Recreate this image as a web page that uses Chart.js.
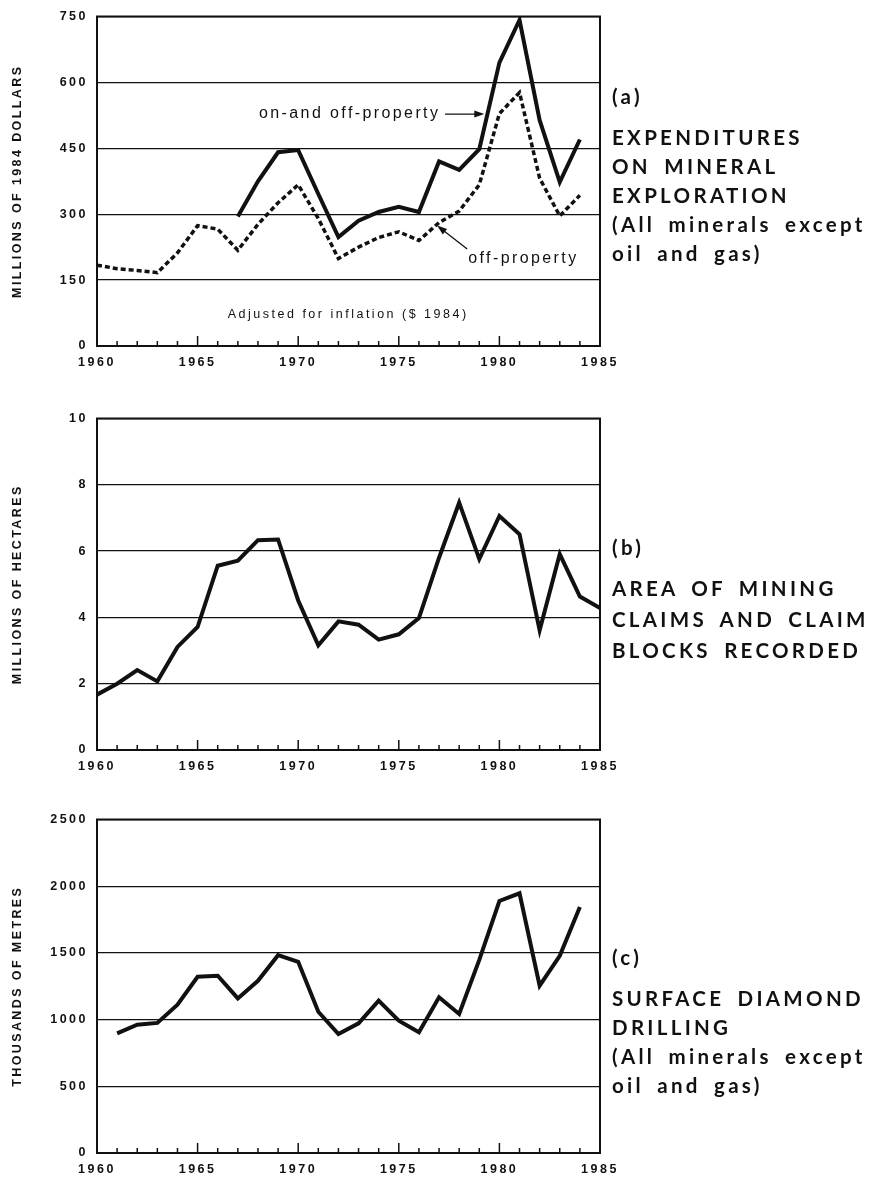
<!DOCTYPE html>
<html>
<head>
<meta charset="utf-8">
<script src="https://cdn.jsdelivr.net/npm/chart.js@4.4.1/dist/chart.umd.min.js"></script>
<style>
  body { margin: 0; background: #fff; width: 878px; height: 1177px; position: relative; overflow: hidden; }
  .box { position: absolute; left: 0; width: 630px; }
  .side { position: absolute; left: 612px; font-family: Lato, 'Open Sans', sans-serif; font-weight: 700;
          font-size: 20.5px; line-height: 29px; letter-spacing: 3.3px; word-spacing: 5px; color: #111; white-space: nowrap; }
  .side .tag { margin-bottom: 12px; }
</style>
</head>
<body>

<div class="box" style="top:0;height:376px"><canvas id="chartA"></canvas></div>
<div class="box" style="top:402px;height:378px"><canvas id="chartB"></canvas></div>
<div class="box" style="top:803px;height:374px"><canvas id="chartC"></canvas></div>

<div class="side" style="top:82px">
  <div class="tag">(a)</div>
  EXPENDITURES<br>ON MINERAL<br>EXPLORATION<br>(All minerals except<br>oil and gas)
</div>
<div class="side" style="top:532px;line-height:31px">
  <div class="tag" style="margin-bottom:10px">(b)</div>
  AREA OF MINING<br>CLAIMS AND CLAIM<br>BLOCKS RECORDED
</div>
<div class="side" style="top:943px">
  <div class="tag">(c)</div>
  SURFACE DIAMOND<br>DRILLING<br>(All minerals except<br>oil and gas)
</div>

<script>
// years on the x axis
const years = [1960, 1961, 1962, 1963, 1964, 1965, 1966, 1967, 1968, 1969,
               1970, 1971, 1972, 1973, 1974, 1975, 1976, 1977, 1978, 1979,
               1980, 1981, 1982, 1983, 1984, 1985];

// (a) expenditures, millions of 1984 dollars
const onAndOffProperty = [null, null, null, null, null, null, null, 295, 375, 441,
                          446, 346, 248, 285, 305, 317, 305, 420, 401, 448,
                          645, 742, 514, 373, 470];
const offProperty = [184, 176, 172, 167, 212, 274, 266, 218, 277, 326,
                     367, 290, 199, 225, 247, 260, 240, 281, 307, 367,
                     529, 577, 382, 296, 343];

// (b) area of claims, millions of hectares
const claimArea = [1.67, 2.0, 2.41, 2.07, 3.11, 3.71, 5.56, 5.71, 6.33, 6.35,
                   4.51, 3.16, 3.88, 3.78, 3.33, 3.49, 3.98, 5.8, 7.46, 5.76,
                   7.06, 6.51, 3.61, 5.91, 4.63, 4.28];

// (c) surface diamond drilling, thousands of metres
const drilling = [null, 897, 962, 975, 1112, 1321, 1329, 1159, 1291, 1483,
                  1433, 1059, 892, 972, 1142, 992, 905, 1167, 1042, 1448,
                  1889, 1947, 1254, 1478, 1844];

const xTicks = [1960, 1965, 1970, 1975, 1980, 1985];
const yTicksA = [0, 150, 300, 450, 600, 750];
const yTicksB = [0, 2, 4, 6, 8, 10];
const yTicksC = [0, 500, 1000, 1500, 2000, 2500];

const FONT = "'Liberation Sans', Arial, sans-serif";
const INK = '#111';

function points(arr) {
    return arr.map((v, i) => ({ x: years[i], y: v }));
}

// frame, inward year ticks, axis title and notes
const framePlugin = {
    id: 'frame',
    beforeDraw(chart) {
        chart.ctx.letterSpacing = '2.5px';
    },
    afterDraw(chart, args, opts) {
        const ctx = chart.ctx;
        const a = chart.chartArea;
        const xs = chart.scales.x;
        const ys = chart.scales.y;
        ctx.save();
        ctx.strokeStyle = INK;
        ctx.lineWidth = 2;
        ctx.strokeRect(a.left, a.top, a.right - a.left, a.bottom - a.top);

        ctx.lineWidth = 1.5;
        ctx.beginPath();
        for (let yr = 1961; yr < 1985; yr++) {
            const px = xs.getPixelForValue(yr);
            const len = yr % 5 === 0 ? 10 : 5;
            ctx.moveTo(px, a.bottom);
            ctx.lineTo(px, a.bottom - len);
        }
        ctx.stroke();

        // y axis title
        ctx.fillStyle = INK;
        ctx.font = 'bold 12.5px ' + FONT;
        ctx.letterSpacing = '2.4px';
        ctx.textAlign = 'center';
        ctx.textBaseline = 'middle';
        ctx.translate(18, (a.top + a.bottom) / 2);
        ctx.rotate(-Math.PI / 2);
        ctx.fillText(opts.title, 0, 0);
        ctx.restore();

        (opts.notes || []).forEach(n => {
            ctx.save();
            ctx.fillStyle = INK;
            ctx.font = (n.size || 16) + 'px ' + FONT;
            ctx.letterSpacing = (n.spacing || 2.4) + 'px';
            ctx.textAlign = 'left';
            ctx.textBaseline = 'middle';
            ctx.fillText(n.text, xs.getPixelForValue(n.x), ys.getPixelForValue(n.y));
            ctx.restore();
        });

        (opts.arrows || []).forEach(ar => {
            const x0 = xs.getPixelForValue(ar.from[0]), y0 = ys.getPixelForValue(ar.from[1]);
            const x1 = xs.getPixelForValue(ar.to[0]), y1 = ys.getPixelForValue(ar.to[1]);
            const ang = Math.atan2(y1 - y0, x1 - x0);
            ctx.save();
            ctx.strokeStyle = INK;
            ctx.fillStyle = INK;
            ctx.lineWidth = 1.3;
            ctx.beginPath();
            ctx.moveTo(x0, y0);
            ctx.lineTo(x1 - 6 * Math.cos(ang), y1 - 6 * Math.sin(ang));
            ctx.stroke();
            ctx.beginPath();
            ctx.moveTo(x1, y1);
            ctx.lineTo(x1 - 10 * Math.cos(ang) + 3.5 * Math.sin(ang), y1 - 10 * Math.sin(ang) - 3.5 * Math.cos(ang));
            ctx.lineTo(x1 - 10 * Math.cos(ang) - 3.5 * Math.sin(ang), y1 - 10 * Math.sin(ang) + 3.5 * Math.cos(ang));
            ctx.closePath();
            ctx.fill();
            ctx.restore();
        });
    }
};

function makeChart(id, datasets, yTicks, frame, xHeight) {
    const ctx = document.getElementById(id).getContext('2d');
    return new Chart(ctx, {
        type: 'line',
        data: { datasets: datasets },
        options: {
            responsive: true,
            maintainAspectRatio: false,
            animation: false,
            layout: { padding: { top: 12, right: 30, left: 0, bottom: 0 } },
            plugins: {
                legend: { display: false },
                tooltip: { enabled: false },
                frame: frame
            },
            elements: { point: { radius: 0 }, line: { tension: 0 } },
            scales: {
                x: {
                    type: 'linear',
                    min: 1960,
                    max: 1985,
                    afterBuildTicks: s => { s.ticks = xTicks.map(v => ({ value: v })); },
                    afterFit: s => { s.height = xHeight; },
                    grid: { display: false },
                    border: { display: false },
                    ticks: {
                        padding: 1,
                        color: INK,
                        font: { family: FONT, size: 12.5, weight: 'bold' },
                        callback: v => String(v),
                        maxRotation: 0,
                        autoSkip: false
                    }
                },
                y: {
                    min: yTicks[0],
                    max: yTicks[yTicks.length - 1],
                    afterBuildTicks: s => { s.ticks = yTicks.map(v => ({ value: v })); },
                    afterFit: s => { s.width = 97; },
                    grid: { color: INK, lineWidth: 1.3, drawTicks: false },
                    border: { display: false },
                    ticks: {
                        padding: 9,
                        color: INK,
                        font: { family: FONT, size: 12.5, weight: 'bold' },
                        callback: v => String(v)
                    }
                }
            }
        },
        plugins: [framePlugin]
    });
}

const lineStyle = { borderColor: INK, borderWidth: 4, borderJoinStyle: 'miter' };

makeChart('chartA', [
    Object.assign({ label: 'off-property', data: points(offProperty), borderDash: [5, 3] }, lineStyle, { borderWidth: 3.5 }),
    Object.assign({ label: 'on-and off-property', data: points(onAndOffProperty) }, lineStyle)
], yTicksA, {
    title: 'MILLIONS OF 1984 DOLLARS',
    notes: [
        { text: 'on-and off-property', x: 1968.05, y: 528 },
        { text: 'off-property', x: 1978.45, y: 199 },
        { text: 'Adjusted for inflation ($ 1984)', x: 1966.5, y: 71, size: 12.5, spacing: 2.5 }
    ],
    arrows: [
        { from: [1977.3, 528], to: [1979.25, 528] },
        { from: [1978.4, 221], to: [1976.9, 274] }
    ]
}, 30);

makeChart('chartB', [
    Object.assign({ label: 'area', data: points(claimArea) }, lineStyle)
], yTicksB, { title: 'MILLIONS OF HECTARES' }, 30);

makeChart('chartC', [
    Object.assign({ label: 'drilling', data: points(drilling) }, lineStyle)
], yTicksC, { title: 'THOUSANDS OF METRES' }, 24);
</script>
</body>
</html>
